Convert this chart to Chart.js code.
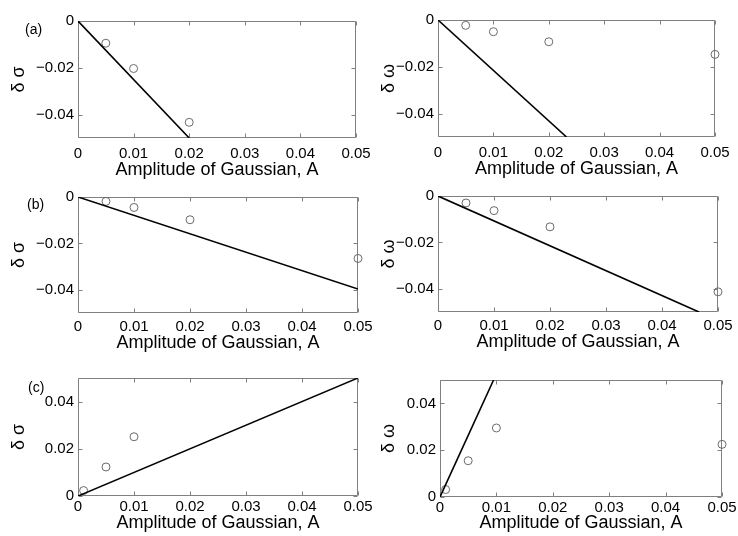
<!DOCTYPE html>
<html>
<head>
<meta charset="utf-8">
<script src="https://cdn.jsdelivr.net/npm/chart.js@4/dist/chart.umd.min.js"></script>
<style>
  html, body { margin: 0; padding: 0; background: #fff; width: 738px; height: 536px; overflow: hidden; }
  body { position: relative; }
  canvas { position: absolute; }
</style>
</head>
<body>
<script>
// Shared axis ticks
const xTicks = [0, 0.01, 0.02, 0.03, 0.04, 0.05];
const yTicksNeg = [-0.04, -0.02, 0];
const yTicksPos = [0, 0.02, 0.04];

// (a) growth-rate shift and frequency shift
const ampA_sigma = [0.005, 0.01, 0.02];
const simA_sigma = [-0.0095, -0.0203, -0.0433];
const fitA_sigma_x = [0, 0.02];
const fitA_sigma_y = [0, -0.05];

const ampA_omega = [0.005, 0.01, 0.02, 0.05];
const simA_omega = [-0.0023, -0.005, -0.0093, -0.0147];
const fitA_omega_x = [0, 0.0232];
const fitA_omega_y = [0, -0.05];

// (b)
const ampB_sigma = [0.005, 0.01, 0.02, 0.05];
const simB_sigma = [-0.0019, -0.0045, -0.0098, -0.0265];
const fitB_sigma_x = [0, 0.05];
const fitB_sigma_y = [0, -0.0397];

const ampB_omega = [0.005, 0.01, 0.02, 0.05];
const simB_omega = [-0.003, -0.0063, -0.0133, -0.0413];
const fitB_omega_x = [0, 0.0466];
const fitB_omega_y = [0, -0.05];

// (c)
const ampC_sigma = [0.001, 0.005, 0.01];
const simC_sigma = [0.0023, 0.0123, 0.0251];
const fitC_sigma_x = [0, 0.05];
const fitC_sigma_y = [0, 0.05];

const ampC_omega = [0.001, 0.005, 0.01, 0.05];
const simC_omega = [0.0032, 0.0155, 0.0295, 0.0225];
const fitC_omega_x = [0, 0.0095];
const fitC_omega_y = [0, 0.05];

const FONT = '"Liberation Sans", Arial, Helvetica, sans-serif';
const FRAME = '#808080';

function fmt(v) {
  if (Math.abs(v) < 1e-12) return '0';
  return (v < 0 ? '\u2212' : '') + Math.abs(v).toFixed(2);
}

function pairs(xs, ys) { return xs.map((x, i) => ({ x: x, y: ys[i] })); }

// Box with inward tick marks on all four sides
const boxPlugin = {
  id: 'boxTicks',
  beforeDatasetsDraw(chart) {
    const { ctx, chartArea: a, scales } = chart;
    const L = Math.round(a.left) + 0.5, R = Math.round(a.right) - 0.5;
    const T = Math.round(a.top) + 0.5, B = Math.round(a.bottom) - 0.5;
    const len = 4;
    ctx.save();
    ctx.strokeStyle = FRAME;
    ctx.lineWidth = 1;
    ctx.beginPath();
    ctx.rect(L, T, R - L, B - T);
    scales.x.ticks.forEach(t => {
      const px = Math.round(scales.x.getPixelForValue(t.value)) + 0.5;
      ctx.moveTo(px, B); ctx.lineTo(px, B - len);
      ctx.moveTo(px, T); ctx.lineTo(px, T + len);
    });
    scales.y.ticks.forEach(t => {
      const py = Math.round(scales.y.getPixelForValue(t.value)) + 0.5;
      ctx.moveTo(L, py); ctx.lineTo(L + len, py);
      ctx.moveTo(R, py); ctx.lineTo(R - len, py);
    });
    ctx.stroke();
    ctx.restore();
  },
  // Row letter in the upper-left corner of the left-hand panels
  afterDraw(chart, args, opts) {
    if (!opts.text) return;
    const ctx = chart.ctx;
    ctx.save();
    ctx.fillStyle = '#000';
    ctx.font = '14px ' + FONT;
    ctx.textBaseline = 'top';
    ctx.textAlign = 'left';
    ctx.fillText(opts.text, opts.x, opts.y);
    ctx.restore();
  }
};

function panel(spec) {
  const colLeft = spec.col === 0 ? 0 : 370;
  const padL = spec.x0 - colLeft;     // room for y labels and title
  const padT = 22, padR = 34, padB = spec.padB;
  const w = (spec.x1 - spec.x0) + padL + padR;
  const h = (spec.y1 - spec.y0) + padT + padB;
  const top = spec.y0 - padT;
  const cv = document.createElement('canvas');
  cv.width = w; cv.height = h;
  cv.style.left = colLeft + 'px';
  cv.style.top = top + 'px';
  cv.style.width = w + 'px'; cv.style.height = h + 'px';
  document.body.appendChild(cv);

  new Chart(cv.getContext('2d'), {
    type: 'scatter',
    data: {
      datasets: [
        {
          data: pairs(spec.fitX, spec.fitY),
          showLine: true,
          borderColor: '#000',
          borderWidth: 1.6,
          pointRadius: 0,
          fill: false
        },
        {
          data: pairs(spec.amp, spec.sim),
          showLine: false,
          pointStyle: 'circle',
          pointRadius: 4,
          borderWidth: 1,
          borderColor: '#6a6a6a',
          backgroundColor: 'rgba(0,0,0,0)',
          clip: false
        }
      ]
    },
    options: {
      responsive: false,
      animation: false,
      devicePixelRatio: 1,
      events: [],
      layout: { padding: { left: 0, top: padT, right: padR, bottom: 0 } },
      plugins: {
        legend: { display: false },
        tooltip: { enabled: false },
        boxTicks: spec.tag ? { text: spec.tag.text, x: spec.tag.x - colLeft, y: spec.tag.y - top } : {}
      },
      scales: {
        x: {
          type: 'linear',
          min: 0, max: 0.05,
          afterBuildTicks: s => { s.ticks = xTicks.map(v => ({ value: v })); },
          afterFit: s => { s.height = padB; },
          grid: { display: false, drawTicks: false },
          border: { display: false },
          ticks: { color: '#000', font: { family: FONT, size: 15 }, padding: spec.tickPad, maxRotation: 0, autoSkip: false, callback: fmt },
          title: { display: true, text: 'Amplitude of Gaussian, A', color: '#000', font: { family: FONT, size: 18 }, padding: { top: 0, bottom: 2 } }
        },
        y: {
          type: 'linear',
          min: spec.yMin, max: spec.yMax,
          afterBuildTicks: s => { s.ticks = spec.yTicks.map(v => ({ value: v })); },
          afterFit: s => { s.width = padL; },
          grid: { display: false, drawTicks: false },
          border: { display: false },
          ticks: { color: '#000', font: { family: FONT, size: 15 }, padding: 4, autoSkip: false, callback: fmt },
          title: { display: true, text: spec.yTitle, color: '#000', font: { family: FONT, size: 18 }, padding: { top: 8, bottom: 0 } }
        }
      }
    },
    plugins: [boxPlugin]
  });
}

panel({ col: 0, x0: 78, x1: 356, y0: 21, y1: 138, padB: 45, tickPad: 7,
        yMin: -0.05, yMax: 0, yTicks: yTicksNeg, yTitle: '\u03b4 \u03c3',
        tag: { text: '(a)', x: 25, y: 23 },
        amp: ampA_sigma, sim: simA_sigma, fitX: fitA_sigma_x, fitY: fitA_sigma_y });
panel({ col: 1, x0: 438, x1: 715, y0: 20, y1: 137, padB: 45, tickPad: 7,
        yMin: -0.05, yMax: 0, yTicks: yTicksNeg, yTitle: '\u03b4 \u03c9',
        amp: ampA_omega, sim: simA_omega, fitX: fitA_omega_x, fitY: fitA_omega_y });
panel({ col: 0, x0: 78, x1: 358, y0: 197, y1: 313, padB: 43, tickPad: 5,
        yMin: -0.05, yMax: 0, yTicks: yTicksNeg, yTitle: '\u03b4 \u03c3',
        tag: { text: '(b)', x: 27, y: 198 },
        amp: ampB_sigma, sim: simB_sigma, fitX: fitB_sigma_x, fitY: fitB_sigma_y });
panel({ col: 1, x0: 438, x1: 718, y0: 196, y1: 312, padB: 43, tickPad: 5,
        yMin: -0.05, yMax: 0, yTicks: yTicksNeg, yTitle: '\u03b4 \u03c9',
        amp: ampB_omega, sim: simB_omega, fitX: fitB_omega_x, fitY: fitB_omega_y });
panel({ col: 0, x0: 78, x1: 358, y0: 378, y1: 496, padB: 40, tickPad: 2,
        yMin: 0, yMax: 0.05, yTicks: yTicksPos, yTitle: '\u03b4 \u03c3',
        tag: { text: '(c)', x: 28, y: 381 },
        amp: ampC_sigma, sim: simC_sigma, fitX: fitC_sigma_x, fitY: fitC_sigma_y });
panel({ col: 1, x0: 440, x1: 722, y0: 380, y1: 497, padB: 39, tickPad: 2,
        yMin: 0, yMax: 0.05, yTicks: yTicksPos, yTitle: '\u03b4 \u03c9',
        amp: ampC_omega, sim: simC_omega, fitX: fitC_omega_x, fitY: fitC_omega_y });
</script>
</body>
</html>
